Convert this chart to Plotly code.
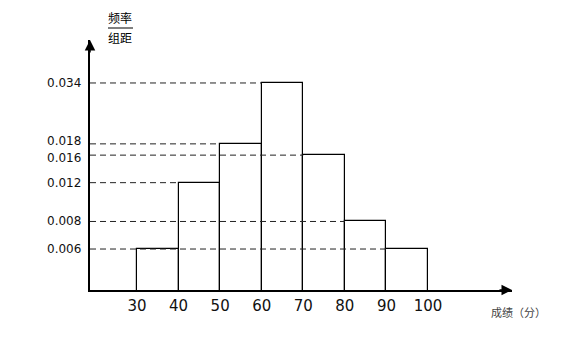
import math
import plotly.graph_objects as go

# data
bin_edges = [30, 40, 50, 60, 70, 80, 90, 100]
freq_per_width = [0.006, 0.012, 0.018, 0.034, 0.016, 0.008, 0.006]
ytick_vals = [0.006, 0.008, 0.012, 0.016, 0.018, 0.034]
ytick_text = ["0.006", "0.008", "0.012", "0.016", "0.018", "0.034"]
xtick_vals = bin_edges
xtick_text = [str(v) for v in bin_edges]

X_MIN, X_MAX = 18.7, 120.2
# the hand-drawn reference spaces its frequency ticks unevenly; a log scale follows it closely
Y_LOG_MIN, Y_LOG_MAX = -2.4078, -1.2735

centers = [(a + b) / 2 for a, b in zip(bin_edges[:-1], bin_edges[1:])]
widths = [b - a for a, b in zip(bin_edges[:-1], bin_edges[1:])]

fig = go.Figure()

fig.add_trace(go.Bar(
    x=centers, y=freq_per_width, width=widths,
    marker=dict(color="rgba(0,0,0,0)", line=dict(color="black", width=1.2)),
    hoverinfo="skip", showlegend=False,
))

# dashed reference lines from y axis to the left edge of the right-most bar with that value
for v in ytick_vals:
    idx = max(i for i, f in enumerate(freq_per_width) if f == v)
    fig.add_trace(go.Scatter(
        x=[X_MIN, bin_edges[idx]], y=[v, v], mode="lines",
        line=dict(color="#222", width=1, dash="6px,4px"),
        hoverinfo="skip", showlegend=False,
    ))

# y tick labels as annotations, nudged apart where two values sit close together
label_nudge = {0.018: 3, 0.016: -3}
annotations = []
for v, t in zip(ytick_vals, ytick_text):
    annotations.append(dict(
        xref="paper", yref="y", x=(83 - 90) / 422, y=math.log10(v),
        text=t, showarrow=False, xanchor="right", yanchor="middle",
        yshift=label_nudge.get(v, 0),
        font=dict(family="DejaVu Sans", size=12, color="#111"),
    ))

annotations += [
    # axis arrows
    dict(xref="paper", yref="paper", x=1, y=0, ax=-14, ay=0,
         showarrow=True, arrowhead=2, arrowsize=1.4, arrowwidth=1.5,
         arrowcolor="black", text=""),
    dict(xref="paper", yref="paper", x=0, y=1, ax=0, ay=14,
         showarrow=True, arrowhead=2, arrowsize=1.4, arrowwidth=1.5,
         arrowcolor="black", text=""),
    # y title as fraction
    dict(xref="paper", yref="paper", x=(120 - 90) / 422, y=(290 - 18) / 250,
         text="频率", showarrow=False,
         font=dict(family="Noto Sans CJK SC", size=12, color="black"),
         yanchor="middle", xanchor="center"),
    dict(xref="paper", yref="paper", x=(120 - 90) / 422, y=(290 - 37) / 250,
         text="组距", showarrow=False,
         font=dict(family="Noto Sans CJK SC", size=12, color="black"),
         yanchor="middle", xanchor="center"),
    # x title
    dict(xref="paper", yref="paper", x=(518 - 90) / 422, y=(290 - 312) / 250,
         text="成绩（分）", showarrow=False, xanchor="center", yanchor="middle",
         font=dict(family="Noto Sans CJK SC", size=11, color="#444")),
]

fig.update_layout(
    width=583, height=339,
    margin=dict(l=90, r=71, t=40, b=49),
    paper_bgcolor="white", plot_bgcolor="white",
    bargap=0,
    xaxis=dict(
        range=[X_MIN, X_MAX], showgrid=False, zeroline=False,
        showline=True, linecolor="black", linewidth=1.5,
        tickvals=xtick_vals, ticktext=xtick_text, ticks="",
        tickfont=dict(family="DejaVu Sans", size=15, color="#111"),
        ticklabelstandoff=1,
    ),
    yaxis=dict(
        type="log", range=[Y_LOG_MIN, Y_LOG_MAX], showgrid=False, zeroline=False,
        showline=True, linecolor="black", linewidth=1.5,
        showticklabels=False, ticks="",
    ),
    annotations=annotations,
    shapes=[
        dict(type="line", xref="paper", yref="paper",
             x0=(108 - 90) / 422, x1=(133 - 90) / 422,
             y0=(290 - 28) / 250, y1=(290 - 28) / 250,
             line=dict(color="black", width=1)),
    ],
)

fig.write_html("out.html")
